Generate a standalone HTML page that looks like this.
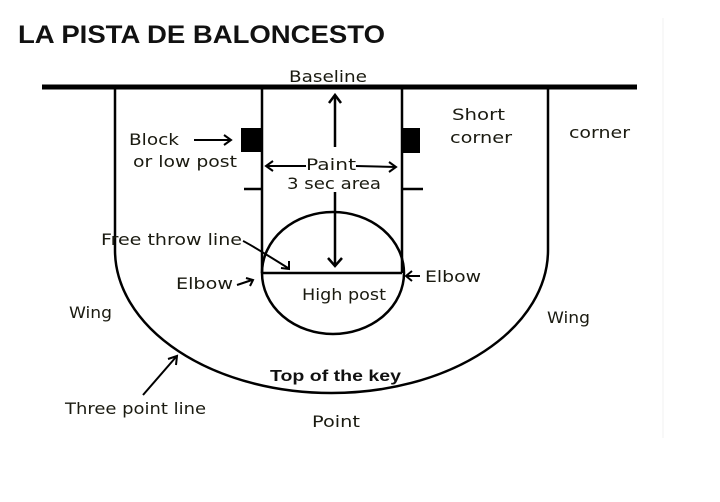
<!DOCTYPE html>
<html><head><meta charset="utf-8"><style>
html,body{margin:0;padding:0;background:#fff;}
body{width:720px;height:502px;position:relative;overflow:hidden;}
svg{position:absolute;left:0;top:0;}
.t{font-family:"DejaVu Sans","Liberation Sans",sans-serif;font-size:16px;fill:#1a1a10;}
</style></head><body>
<svg width="720" height="502" viewBox="0 0 720 502">
<line x1="663" y1="18" x2="663" y2="438" stroke="#f0f0f0" stroke-width="1"/>
<text x="18" y="43" font-family="Liberation Sans, sans-serif" font-weight="bold" font-size="25" textLength="367" lengthAdjust="spacingAndGlyphs" fill="#111">LA PISTA DE BALONCESTO</text>
<g stroke="#000" fill="none" stroke-width="2.5">
<line x1="42" y1="87" x2="637" y2="87" stroke-width="5"/>
<path d="M115 87 L115 250 A216.5 143 0 0 0 548 250 L548 87"/>
<line x1="262" y1="87" x2="262" y2="273"/>
<line x1="402" y1="87" x2="402" y2="273"/>
<line x1="262" y1="273" x2="402" y2="273"/>
<ellipse cx="333" cy="273" rx="71" ry="61"/>
<line x1="244" y1="189" x2="262" y2="189"/>
<line x1="402" y1="189" x2="423" y2="189"/>
<line x1="335" y1="96" x2="335" y2="147"/>
<path d="M329 103 L335 95 L341 103"/>
<line x1="335" y1="192" x2="335" y2="266"/>
<path d="M328 258 L335 266 L342 258"/>
<line x1="194" y1="140" x2="230" y2="140" stroke-width="2"/>
<path d="M224 135 L231 140 L224 145" stroke-width="2"/>
<line x1="266" y1="166" x2="306" y2="166" stroke-width="2"/>
<path d="M273 161 L266 166 L273 171" stroke-width="2"/>
<line x1="356" y1="166" x2="396" y2="167" stroke-width="2"/>
<path d="M389 162 L396 167 L389 172" stroke-width="2"/>
<path d="M243 241 Q248 243 288 268" stroke-width="2"/>
<path d="M281 268 L289 269 L289 261" stroke-width="2"/>
<path d="M237 285 L252 280" stroke-width="2"/>
<path d="M246 278 L253 280 L250 286" stroke-width="2"/>
<path d="M420 276 L407 276" stroke-width="2"/>
<path d="M412 271 L406 276 L412 281" stroke-width="2"/>
<path d="M143 395 L176 357" stroke-width="2"/>
<path d="M168 359 L177 356 L176 365" stroke-width="2"/>
</g>
<rect x="241" y="128" width="21" height="24" fill="#000"/>
<rect x="402" y="128" width="18" height="25" fill="#000"/>
<g class="t">
<text class="t" x="289" y="82" textLength="78" lengthAdjust="spacingAndGlyphs">Baseline</text>
<text class="t" x="129" y="145" textLength="50" lengthAdjust="spacingAndGlyphs">Block</text>
<text class="t" x="133" y="167" textLength="104" lengthAdjust="spacingAndGlyphs">or low post</text>
<text class="t" x="306" y="170" textLength="50" lengthAdjust="spacingAndGlyphs">Paint</text>
<text class="t" x="287" y="189" textLength="94" lengthAdjust="spacingAndGlyphs">3 sec area</text>
<text class="t" x="452" y="120" textLength="53" lengthAdjust="spacingAndGlyphs">Short</text>
<text class="t" x="450" y="143" textLength="62" lengthAdjust="spacingAndGlyphs">corner</text>
<text class="t" x="569" y="138" textLength="61" lengthAdjust="spacingAndGlyphs">corner</text>
<text class="t" x="101" y="245" textLength="141" lengthAdjust="spacingAndGlyphs">Free throw line</text>
<text class="t" x="176" y="289" textLength="57" lengthAdjust="spacingAndGlyphs">Elbow</text>
<text class="t" x="425" y="282" textLength="56" lengthAdjust="spacingAndGlyphs">Elbow</text>
<text class="t" x="302" y="300" textLength="84" lengthAdjust="spacingAndGlyphs">High post</text>
<text class="t" x="69" y="318" textLength="43" lengthAdjust="spacingAndGlyphs">Wing</text>
<text class="t" x="547" y="323" textLength="43" lengthAdjust="spacingAndGlyphs">Wing</text>
<text class="t" x="65" y="414" textLength="141" lengthAdjust="spacingAndGlyphs">Three point line</text>
<text class="t" x="312" y="427" textLength="48" lengthAdjust="spacingAndGlyphs">Point</text>
</g>
<text x="270" y="381" font-family="Liberation Sans, sans-serif" font-weight="bold" font-size="16" textLength="131" lengthAdjust="spacingAndGlyphs" fill="#111">Top of the key</text>
</svg>
</body></html>
